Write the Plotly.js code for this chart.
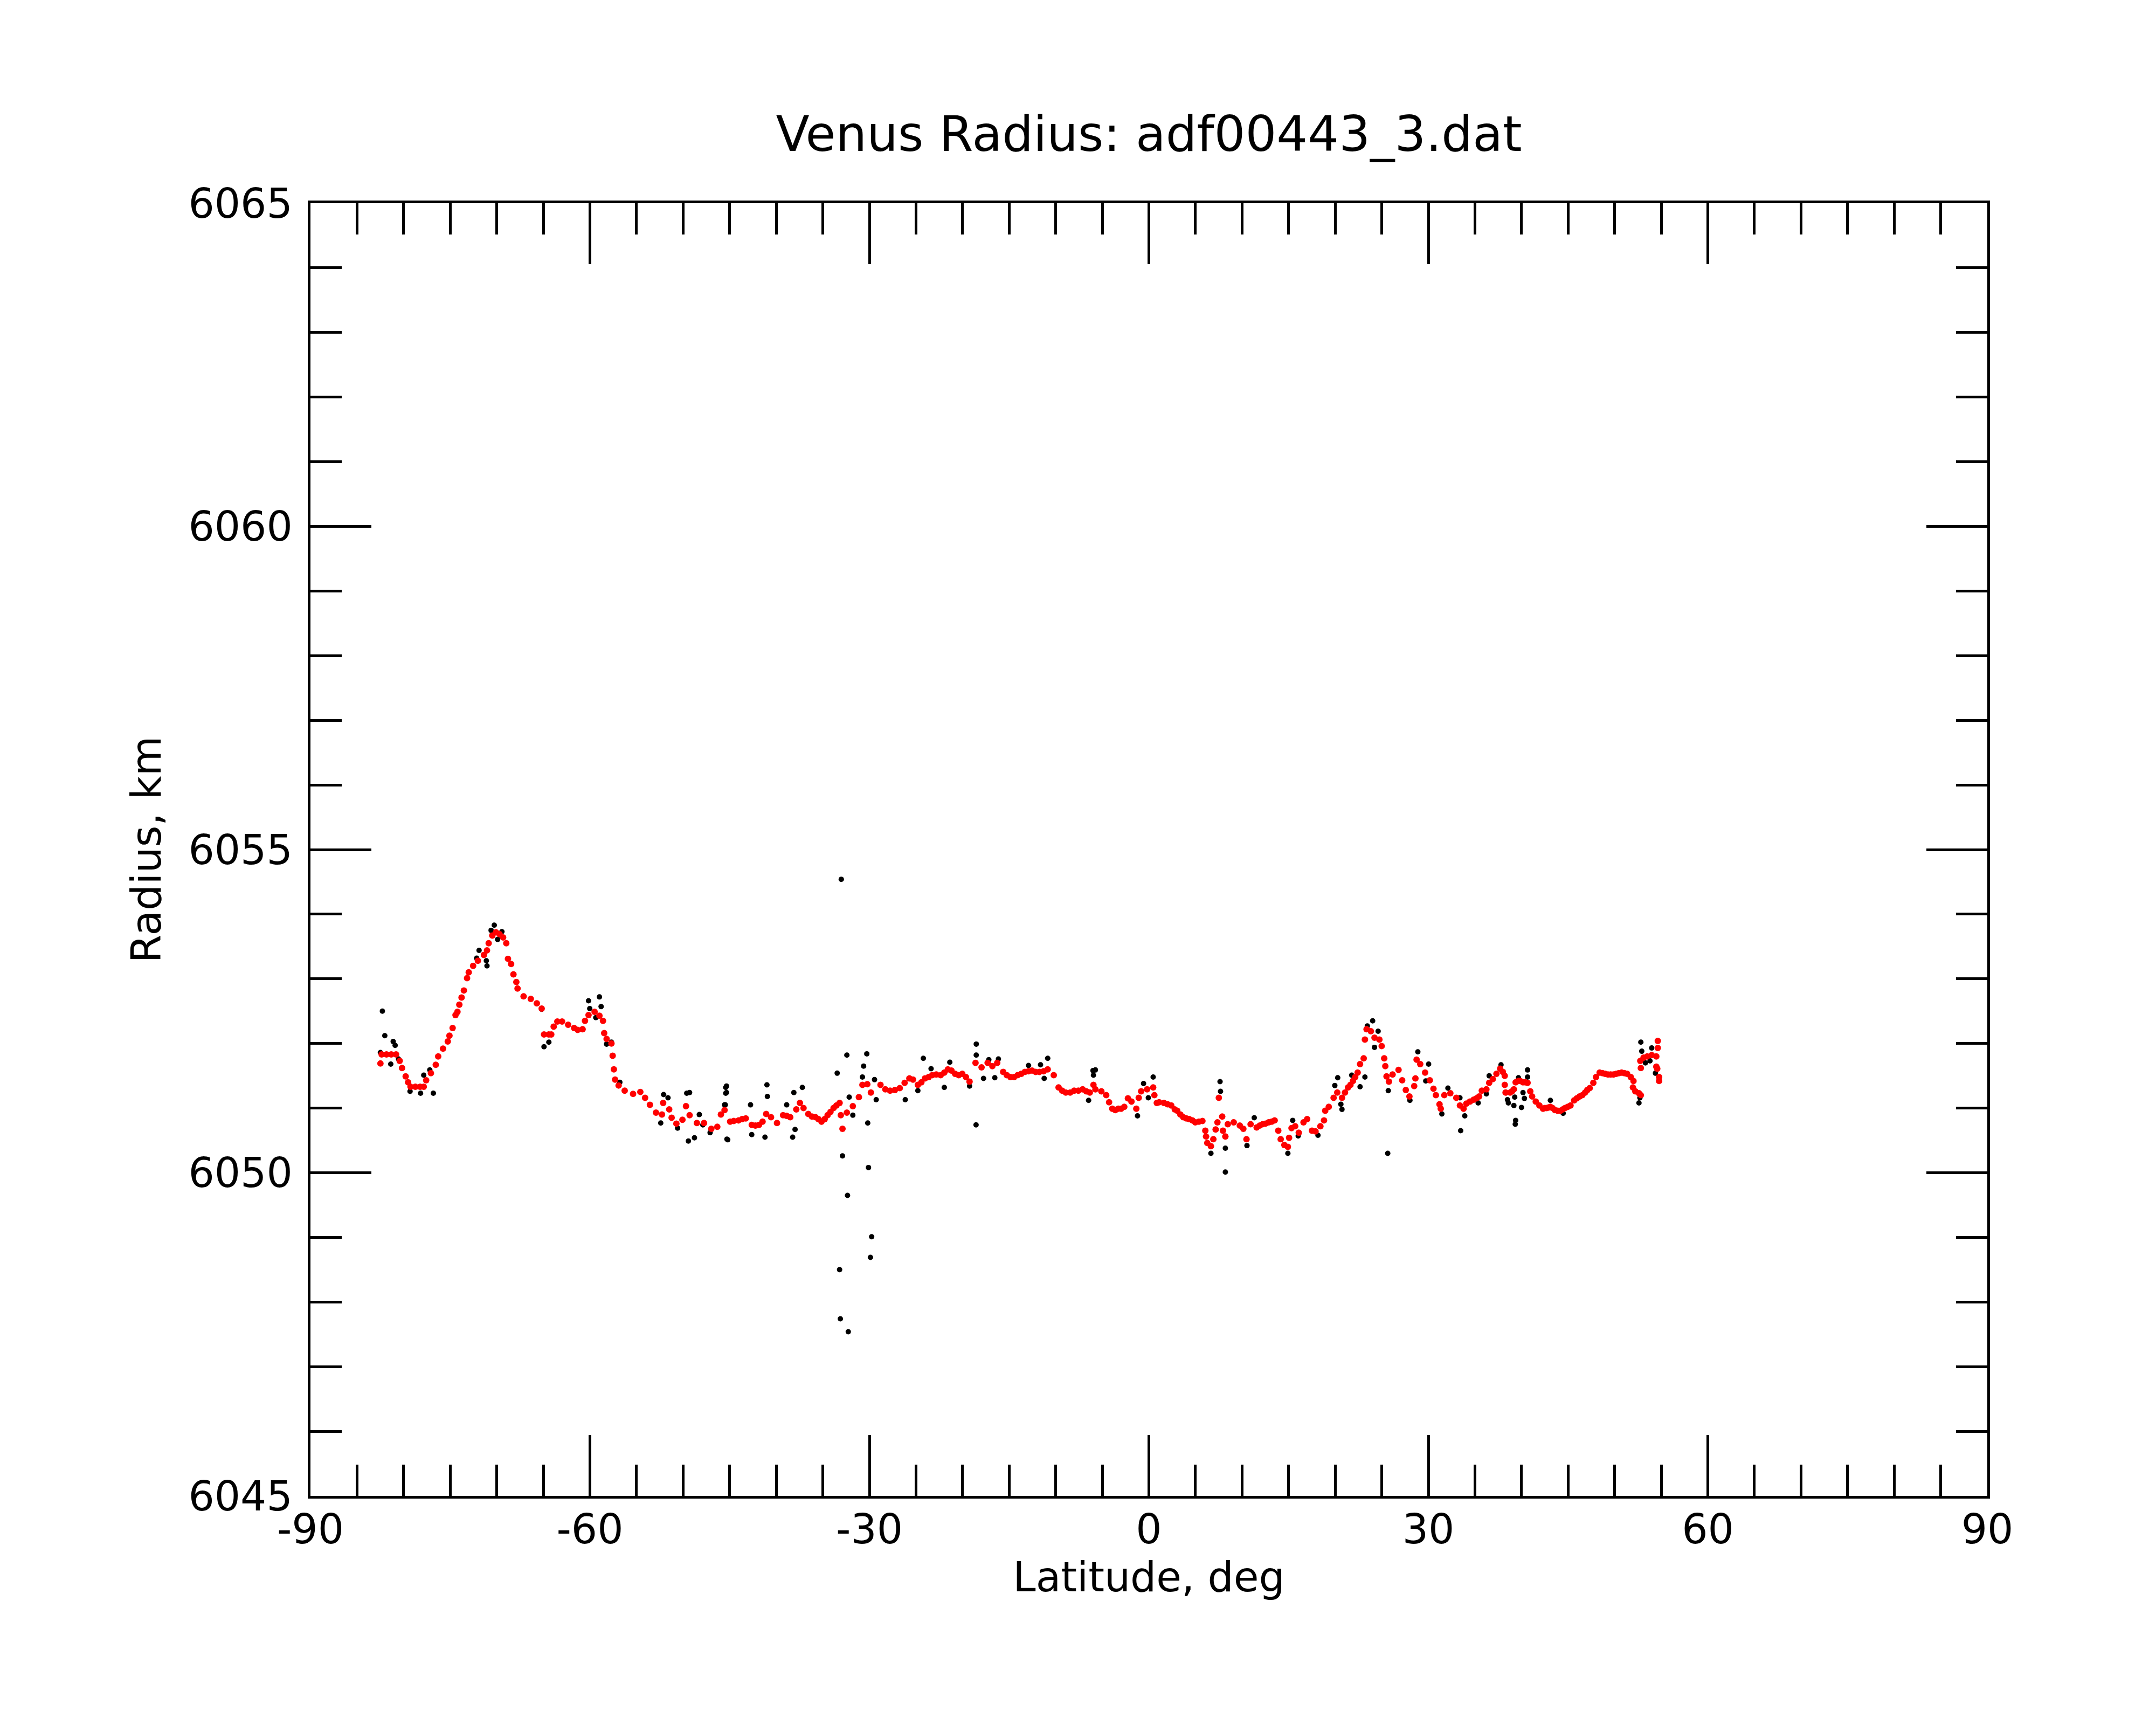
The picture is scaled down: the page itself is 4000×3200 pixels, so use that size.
<!DOCTYPE html>
<html>
<head>
<meta charset="utf-8">
<script src="https://cdn.plot.ly/plotly-3.0.1.min.js"></script>
<style>html,body{margin:0;padding:0;background:#fff;}</style>
</head>
<body>
<div id="chart" style="width:4000px;height:3200px;"></div>
<script>
// Smoothed radius profile (red)
const smoothLat = [
-82.49,-82.36,-81.84,-81.33,-80.81,-80.42,-80.17,-79.78,-79.52,-79.26,-78.74,-78.23,-77.84,-77.58,-77.07,-76.55,-76.29,-75.77,-75.26,-75.08,
-74.74,-74.43,-74.22,-74.02,-73.78,-73.53,-73.19,-73.01,-72.54,-72.03,-71.38,-71.05,-70.87,-70.48,-70.09,-69.70,-69.32,-68.98,-68.80,-68.46,
-68.21,-67.90,-67.77,-67.12,-66.35,-65.70,-65.18,-64.93,-64.41,-64.15,-63.89,-63.50,-62.99,-62.34,-61.70,-61.31,-60.79,-60.53,-60.15,-59.50,
-58.98,-58.60,-58.47,-58.21,-57.69,-57.56,-57.43,-57.30,-56.92,-56.27,-55.37,-54.59,-54.08,-53.56,-52.91,-52.27,-52.14,-51.49,-51.23,-50.72,
-50.07,-49.69,-49.30,-48.52,-47.75,-46.97,-46.33,-45.94,-45.55,-44.95,-44.56,-44.05,-43.66,-43.27,-42.63,-42.24,-41.85,-41.47,-41.08,-40.56,
-39.92,-39.27,-38.88,-38.50,-37.85,-37.46,-37.07,-36.56,-36.17,-35.78,-35.47,-35.14,-34.80,-34.49,-34.18,-33.85,-33.54,-33.20,-33.07,-32.89,
-32.42,-31.78,-31.13,-30.75,-30.23,-29.84,-28.81,-28.29,-27.78,-27.26,-26.74,-26.22,-25.71,-25.32,-24.80,-24.42,-24.03,-23.64,-23.26,-22.82,
-22.35,-21.96,-21.58,-21.19,-20.80,-20.41,-20.03,-19.64,-19.25,-18.61,-17.96,-17.31,-16.80,-16.28,-15.64,-15.25,-14.86,-14.47,-14.09,-13.70,
-13.31,-12.92,-12.54,-12.15,-11.76,-11.30,-10.86,-10.21,-9.69,-9.31,-8.92,-8.45,-8.02,-7.57,-7.11,-6.72,-6.34,-5.95,-5.74,-5.10,
-4.58,-4.27,-3.93,-3.60,-3.29,-2.98,-2.64,-2.25,-1.87,-1.35,-1.09,-0.83,-0.19,0.46,0.59,0.85,1.10,1.62,2.01,2.40,
2.78,3.04,3.38,3.69,4.02,4.33,4.67,4.98,5.37,5.75,6.06,6.14,6.27,6.66,6.92,7.17,7.36,7.51,7.87,7.95,
8.21,8.47,9.11,9.76,10.14,10.48,10.92,11.57,11.90,12.21,12.52,12.86,13.19,13.50,13.89,14.15,14.54,14.92,15.05,15.31,
15.70,16.09,16.60,16.99,17.51,17.89,18.41,18.80,18.93,19.31,19.83,20.22,20.73,21.05,21.38,21.64,21.90,22.15,22.41,22.67,
23.06,23.19,23.37,23.83,24.22,24.74,24.99,25.26,25.38,25.51,25.77,26.16,26.80,27.19,27.58,27.97,28.48,28.61,28.74,29.13,
29.65,30.16,30.55,30.81,31.20,31.33,31.71,32.36,33.00,33.39,33.78,34.08,34.47,34.86,35.16,35.45,35.74,36.23,36.53,36.92,
37.31,37.71,38.00,38.20,38.20,38.29,38.78,38.98,39.18,39.37,39.67,39.86,40.16,40.41,40.65,40.94,41.14,41.53,41.92,42.31,
42.51,42.71,42.90,43.10,43.33,43.59,43.88,44.18,44.43,44.67,44.96,45.26,45.65,45.94,46.24,46.53,46.83,47.06,47.32,47.71,
48.00,48.39,48.69,48.98,49.28,49.57,49.87,50.16,50.45,50.75,51.04,51.34,51.73,52.02,51.96,52.22,52.61,52.81,52.75,52.81,
53.10,53.49,53.98,54.47,54.63,54.63,54.47,54.57,54.77,54.77
];
const smoothRad = [
6051.69,6051.83,6051.83,6051.83,6051.83,6051.73,6051.62,6051.49,6051.40,6051.33,6051.33,6051.33,6051.33,6051.43,6051.54,6051.67,6051.80,6051.92,6052.03,6052.12,
6052.24,6052.44,6052.49,6052.60,6052.71,6052.82,6053.01,6053.10,6053.20,6053.28,6053.37,6053.44,6053.55,6053.67,6053.72,6053.69,6053.64,6053.55,6053.31,6053.23,
6053.07,6052.95,6052.85,6052.73,6052.69,6052.62,6052.54,6052.14,6052.14,6052.14,6052.26,6052.34,6052.34,6052.29,6052.24,6052.21,6052.22,6052.35,6052.44,6052.49,
6052.43,6052.35,6052.16,6052.07,6052.00,6051.81,6051.60,6051.44,6051.35,6051.27,6051.22,6051.25,6051.16,6051.05,6050.93,6050.90,6051.08,6050.98,6050.85,6050.76,
6050.82,6051.03,6050.89,6050.77,6050.77,6050.68,6050.71,6050.90,6050.97,6050.79,6050.80,6050.81,6050.83,6050.84,6050.74,6050.73,6050.74,6050.79,6050.91,6050.86,
6050.77,6050.89,6050.88,6050.86,6050.98,6051.08,6051.00,6050.91,6050.87,6050.86,6050.83,6050.79,6050.83,6050.89,6050.94,6051.00,6051.04,6051.08,6050.89,6050.68,
6050.93,6051.03,6051.17,6051.36,6051.37,6051.24,6051.36,6051.29,6051.27,6051.28,6051.31,6051.39,6051.46,6051.44,6051.36,6051.40,6051.46,6051.48,6051.51,6051.52,
6051.51,6051.55,6051.60,6051.58,6051.53,6051.51,6051.53,6051.48,6051.41,6051.70,6051.63,6051.70,6051.65,6051.70,6051.56,6051.51,6051.48,6051.48,6051.51,6051.53,
6051.56,6051.57,6051.58,6051.56,6051.56,6051.57,6051.60,6051.51,6051.32,6051.27,6051.24,6051.24,6051.27,6051.27,6051.29,6051.26,6051.24,6051.36,6051.29,6051.26,
6051.20,6051.09,6050.99,6050.97,6050.99,6050.99,6051.02,6051.15,6051.10,6050.99,6051.16,6051.26,6051.29,6051.32,6051.20,6051.08,6051.09,6051.08,6051.06,6051.04,
6050.98,6050.96,6050.90,6050.86,6050.84,6050.83,6050.81,6050.78,6050.79,6050.80,6050.65,6050.56,6050.46,6050.41,6050.52,6050.67,6050.78,6051.16,6050.87,6050.65,
6050.56,6050.75,6050.78,6050.73,6050.68,6050.52,6050.75,6050.70,6050.73,6050.75,6050.76,6050.78,6050.79,6050.81,6050.65,6050.52,6050.43,6050.40,6050.54,6050.69,
6050.72,6050.62,6050.78,6050.83,6050.65,6050.64,6050.72,6050.81,6050.96,6051.02,6051.16,6051.24,6051.16,6051.24,6051.32,6051.36,6051.42,6051.48,6051.55,6051.68,
6051.77,6052.06,6052.22,6052.19,6052.09,6052.06,6051.96,6051.77,6051.65,6051.49,6051.41,6051.52,6051.59,6051.43,6051.28,6051.18,6051.34,6051.46,6051.75,6051.68,
6051.55,6051.43,6051.30,6051.20,6051.06,6050.99,6051.20,6051.23,6051.16,6051.04,6050.99,6051.07,6051.10,6051.13,6051.15,6051.18,6051.27,6051.29,6051.39,6051.45,
6051.53,6051.61,6051.56,6051.50,6051.36,6051.24,6051.24,6051.26,6051.29,6051.40,6051.42,6051.42,6051.40,6051.40,6051.39,6051.26,6051.18,6051.10,6051.04,6050.99,
6051.00,6051.00,6051.01,6051.02,6051.00,6050.97,6050.96,6050.96,6050.98,6051.00,6051.02,6051.04,6051.12,6051.15,6051.18,6051.20,6051.24,6051.28,6051.31,6051.39,
6051.48,6051.55,6051.54,6051.53,6051.52,6051.52,6051.52,6051.53,6051.54,6051.55,6051.54,6051.53,6051.48,6051.42,6051.32,6051.26,6051.23,6051.20,6051.73,6051.62,
6051.78,6051.80,6051.82,6051.80,6052.04,6051.93,6051.64,6051.61,6051.48,6051.42
];
// Raw radius measurements (black)
const rawLat = [
-82.28,-82.02,-81.12,-80.91,-82.49,-81.38,-80.55,-79.31,-78.18,-76.81,-77.84,-77.19,-71.90,-72.16,-71.12,-71.05,-70.27,-70.61,-69.45,-69.91,
-65.18,-64.93,-64.41,-60.15,-60.02,-58.98,-58.80,-59.37,-58.21,-57.69,-56.79,-52.09,-51.62,-52.40,-50.59,-49.61,-49.30,-49.43,-48.78,-48.26,
-47.88,-47.10,-45.42,-45.42,-45.55,-45.29,-33.02,-45.34,-45.34,-45.47,-45.21,-42.63,-42.76,-41.00,-40.95,-41.21,-38.88,-38.11,-37.20,-37.98,
-38.24,-33.46,-32.42,-30.28,-30.62,-30.75,-29.45,-29.27,-30.18,-32.89,-30.10,-32.35,-29.76,-29.89,-33.20,-33.12,-32.27,-32.17,-31.78,-26.15,
-24.21,-23.38,-21.96,-21.37,-18.53,-18.53,-18.55,-17.18,-16.15,-17.75,-16.54,-12.92,-11.63,-10.86,-11.24,-6.47,-6.00,-5.95,-24.80,-19.25,
-5.74,-1.22,-0.57,0.46,-0.06,7.64,7.69,8.21,8.21,6.66,10.53,11.31,14.92,15.44,16.03,18.15,19.96,20.27,20.61,20.73,
21.77,22.67,23.19,24.02,23.45,24.61,24.22,25.70,25.64,28.87,30.03,29.72,28.02,31.45,32.10,33.39,33.91,33.47,35.35,36.23,
36.53,37.80,38.49,38.59,39.18,39.27,39.37,39.33,40.00,40.16,40.31,39.67,40.65,40.65,43.10,44.47,52.81,52.91,53.98,53.30,
53.79,54.38,52.61,52.71
];
const rawRad = [
6052.50,6052.12,6052.03,6051.97,6051.86,6051.68,6051.76,6051.26,6051.23,6051.23,6051.51,6051.59,6053.44,6053.32,6053.28,6053.20,6053.83,6053.75,6053.73,6053.61,
6052.53,6051.95,6052.02,6052.66,6052.54,6052.72,6052.57,6052.40,6051.99,6052.02,6051.40,6051.21,6051.16,6050.77,6050.69,6051.23,6051.24,6050.49,6050.54,6050.90,
6050.74,6050.62,6051.32,6051.23,6051.05,6050.52,6054.54,6051.34,6051.24,6051.05,6050.51,6050.59,6051.05,6051.36,6051.18,6050.55,6051.05,6051.24,6051.32,6050.67,
6050.55,6051.54,6051.82,6051.84,6051.65,6051.48,6051.44,6051.13,6050.77,6050.26,6050.08,6049.65,6049.01,6048.69,6048.50,6047.74,6047.54,6051.17,6050.89,6051.13,
6051.77,6051.61,6051.32,6051.71,6051.99,6051.82,6050.74,6051.75,6051.76,6051.46,6051.47,6051.66,6051.67,6051.77,6051.46,6051.12,6051.58,6051.51,6051.27,6051.34,
6051.59,6050.88,6051.38,6051.48,6051.16,6051.41,6051.26,6050.38,6050.01,6050.30,6050.42,6050.85,6050.30,6050.81,6050.57,6050.58,6051.35,6051.47,6051.06,6050.98,
6051.51,6051.33,6051.48,6052.35,6052.27,6052.19,6051.94,6051.27,6050.30,6051.87,6051.68,6051.42,6051.12,6050.91,6051.31,6051.16,6050.88,6050.65,6051.08,6051.22,
6051.50,6051.67,6051.13,6051.08,6051.04,6051.17,6050.81,6050.75,6051.01,6051.24,6051.15,6051.47,6051.59,6051.48,6051.12,6050.92,6052.02,6051.88,6051.93,6051.70,
6051.73,6051.54,6051.08,6051.16
];
// Axis ticks
const xTickVals = [-90, -60, -30, 0, 30, 60, 90];
const xTickText = ['-90', '-60', '-30', '0', '30', '60', '90'];
const yTickVals = [6045, 6050, 6055, 6060, 6065];
const yTickText = ['6045', '6050', '6055', '6060', '6065'];

const FONT = 'DejaVu Sans';

const traces = [
  {x: rawLat, y: rawRad, type: 'scatter', mode: 'markers',
   marker: {color: '#000000', size: 10}, hoverinfo: 'x+y', showlegend: false},
  {x: smoothLat, y: smoothRad, type: 'scatter', mode: 'markers',
   marker: {color: '#ff0000', size: 12}, hoverinfo: 'x+y', showlegend: false}
];

function axisCommon() {
  return {
    showgrid: false, zeroline: false, showline: true,
    linecolor: '#000', linewidth: 5, mirror: 'allticks',
    ticks: 'inside', ticklen: 113, tickwidth: 5, tickcolor: '#000',
    tickfont: {family: FONT, size: 76, color: '#000'},
    tickmode: 'array'
  };
}

const xaxis = Object.assign(axisCommon(), {
  range: [-90, 90], tickvals: xTickVals, ticktext: xTickText, ticklabelstandoff: -8,
  minor: {tickmode: 'linear', tick0: -90, dtick: 5, ticks: 'inside', ticklen: 58, tickwidth: 5, tickcolor: '#000', showgrid: false},
  title: {text: 'Latitude, deg', font: {family: FONT, size: 76, color: '#000'}, standoff: 0}
});
const yaxis = Object.assign(axisCommon(), {
  range: [6045, 6065], tickvals: yTickVals, ticktext: yTickText, ticklabelstandoff: 13,
  minor: {tickmode: 'linear', tick0: 6045, dtick: 1, ticks: 'inside', ticklen: 58, tickwidth: 5, tickcolor: '#000', showgrid: false},
  title: {text: 'Radius, km', font: {family: FONT, size: 76, color: '#000'}, standoff: 27}
});

const layout = {
  width: 4000, height: 3200,
  margin: {l: 576, r: 313, t: 377, b: 425, pad: 0},
  paper_bgcolor: '#fff', plot_bgcolor: '#fff',
  font: {family: FONT, color: '#000'},
  title: {text: 'Venus Radius: adf00443_3.dat', font: {family: FONT, size: 91, color: '#000'},
          xref: 'paper', x: 0.5, xanchor: 'center', yref: 'container', y: 0.9225, yanchor: 'middle'},
  xaxis: xaxis, yaxis: yaxis, showlegend: false
};

Plotly.newPlot('chart', traces, layout, {staticPlot: true});
</script>
</body>
</html>
